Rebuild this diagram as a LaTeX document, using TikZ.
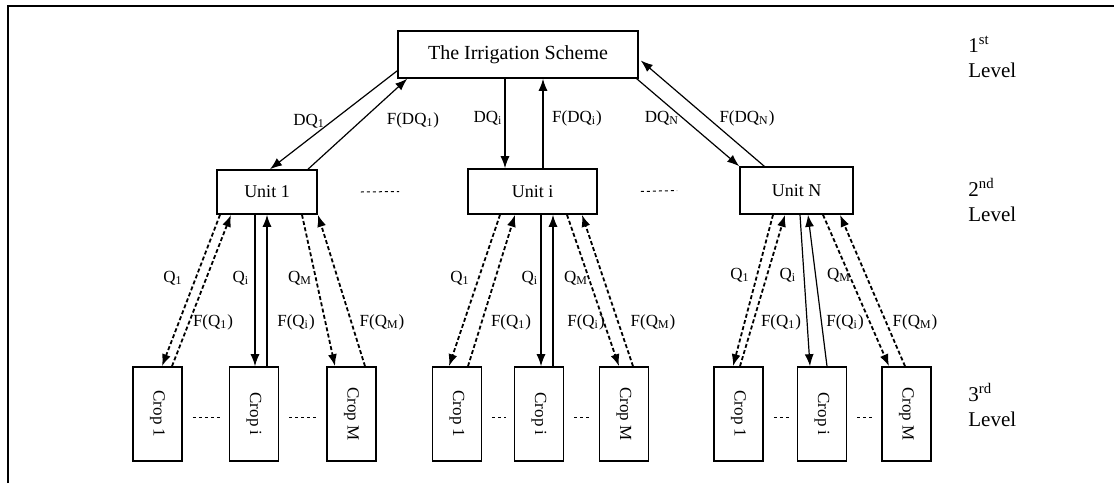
\documentclass[tikz,border=0pt]{standalone}
\usepackage{fontspec}
\usepackage{graphicx}
\setmainfont{Liberation Serif}
\usetikzlibrary{arrows.meta,calc}
\begin{document}
\begin{tikzpicture}[x=0.5pt,y=-0.5pt,
 box/.style={draw,line width=0.8pt,inner sep=0pt,font=\fontsize{9}{10}\selectfont},
 cropbox/.style={draw,line width=0.8pt,inner sep=0pt,minimum width=24.5pt,minimum height=47pt,font=\fontsize{8.5}{10}\selectfont},
 arr/.style={line width=0.6pt,-{Latex[length=6pt,width=4.5pt]}},
 dsh/.style={arr,dash pattern=on 2pt off 1.2pt,line width=0.9pt},
 lbl/.style={font=\fontsize{8.5}{9}\selectfont,inner sep=0pt},
 lvl/.style={font=\fontsize{10.5}{12.5}\selectfont,align=left,anchor=west,inner sep=0pt},
 frameline/.style={line width=1.3pt},
 dotline/.style={dash pattern=on 1.5pt off 1.5pt,line width=0.5pt}]
\useasboundingbox (0,0) rectangle (1114,483);
\draw[frameline] (8,483) -- (8,6) -- (1114,6);

% level 1
\node[box,minimum width=120pt,minimum height=23.5pt,font=\fontsize{10}{12}\selectfont] (ts) at (518,54.5) {The Irrigation Scheme};
% level 2
\node[box,minimum width=50pt,minimum height=22pt] (u1) at (267,192) {Unit 1};
\node[box,minimum width=64.5pt,minimum height=22.5pt] (ui) at (532.5,191.5) {Unit i};
\node[box,minimum width=56.5pt,minimum height=23.5pt] (un) at (796.5,190.5) {Unit N};
% level 3
\node[cropbox] (c11) at (157.5,414) {\rotatebox{-90}{Crop 1}};
\node[cropbox] (c12) at (254,414) {\rotatebox{-90}{Crop i}};
\node[cropbox] (c13) at (351.5,414) {\rotatebox{-90}{Crop M}};
\node[cropbox] (c21) at (457,414) {\rotatebox{-90}{Crop 1}};
\node[cropbox] (c22) at (539,414) {\rotatebox{-90}{Crop i}};
\node[cropbox] (c23) at (624,414) {\rotatebox{-90}{Crop M}};
\node[cropbox] (c31) at (738.5,414) {\rotatebox{-90}{Crop 1}};
\node[cropbox] (c32) at (822,414) {\rotatebox{-90}{Crop i}};
\node[cropbox] (c33) at (906.5,414) {\rotatebox{-90}{Crop M}};

% level labels
\node[lvl] (l1) at (968,57) {1\textsuperscript{st}\\Level};
\node[lvl] (l2) at (968,200) {2\textsuperscript{nd}\\Level};
\node[lvl] (l3) at (968,405) {3\textsuperscript{rd}\\Level};

% dots between units and crops
\draw[dotline] ($(u1.east)+(43,0)$) -- ($(ui.west)+(-68,0)$);
\draw[dotline] ($(ui.east)+(43,0)$) -- ($(un.west)+(-62,0)$);
\foreach \a/\b in {c11/c12,c12/c13,c21/c22,c22/c23,c31/c32,c32/c33}
  \draw[dotline] ($(\a.east)+(10,3)$) -- ($(\b.west)+(-8,3)$);

% level 1 <-> level 2
\draw[arr] ($(ts.south west)+(0,-8)$) -- ($(u1.north)+(3,0)$);
\draw[arr] ($(u1.north)+(41,0)$) -- ($(ts.south west)+(10,0)$);
\draw[arr] ($(ts.south)+(-13,0)$) -- ($(ui.north)+(-27.5,0)$);
\draw[arr] ($(ui.north)+(10.5,0)$) -- ($(ts.south)+(25,0)$);
\draw[arr] ($(ts.south east)+(-2,0)$) -- (un.north west);
\draw[arr] ($(un.north west)+(25,0)$) -- ($(ts.east)+(2,6)$);

\node[lbl] (t1) at (309,121) {DQ\textsubscript{1}};
\node[lbl] (t2) at (413,120) {F(DQ\textsubscript{1})};
\node[lbl] (t3) at (488,118) {DQ\textsubscript{i}};
\node[lbl] (t4) at (577,118) {F(DQ\textsubscript{i})};
\node[lbl] (t5) at (662,118) {DQ\textsubscript{N}};
\node[lbl] (t6) at (747,118) {F(DQ\textsubscript{N})};

% unit 1 <-> crops
\draw[dsh] ($(u1.south)+(-47,0)$) -- ($(c11.north)+(4.5,0)$);
\draw[dsh] ($(c11.north)+(14.5,0)$) -- ($(u1.south)+(-36,0)$);
\draw[arr] ($(u1.south)+(-12,0)$) -- ($(c12.north)+(1,0)$);
\draw[arr] ($(c12.north)+(13,0)$) -- (u1.south);
\draw[dsh] ($(u1.south)+(35,0)$) -- ($(c13.north)+(-16.5,0)$);
\draw[dsh] ($(c13.north)+(13.5,0)$) -- ($(u1.south)+(51,0)$);

% unit i <-> crops
\draw[dsh] ($(ui.south)+(-32.5,0)$) -- ($(c21.north)+(-8,0)$);
\draw[dsh] ($(c21.north)+(11,0)$) -- ($(ui.south)+(-17.5,0)$);
\draw[arr] ($(ui.south)+(8.5,0)$) -- ($(c22.north)+(2,0)$);
\draw[arr] ($(c22.north)+(14,0)$) -- ($(ui.south)+(20.5,0)$);
\draw[dsh] ($(ui.south)+(34.5,0)$) -- ($(c23.north)+(-5,0)$);
\draw[dsh] ($(c23.north)+(9,0)$) -- ($(ui.south)+(49.5,0)$);

% unit N <-> crops
\draw[dsh] ($(un.south)+(-23.5,0)$) -- ($(c31.north)+(-5.5,0)$);
\draw[dsh] ($(c31.north)+(1.5,0)$) -- ($(un.south)+(-11.5,0)$);
\draw[arr] ($(un.south)+(3.5,0)$) -- ($(c32.north)+(-12,0)$);
\draw[arr] ($(c32.north)+(5,0)$) -- ($(un.south)+(11.5,0)$);
\draw[dsh] ($(un.south)+(26.5,0)$) -- ($(c33.north)+(-17.5,0)$);
\draw[dsh] ($(c33.north)+(-1.5,0)$) -- ($(un.south)+(43.5,0)$);

% labels level 2 <-> 3
\node[lbl] (a1) at (173,278) {Q\textsubscript{1}};
\node[lbl] (a2) at (213,322) {F(Q\textsubscript{1})};
\node[lbl] (a3) at (241,278) {Q\textsubscript{i}};
\node[lbl] (a4) at (296,322) {F(Q\textsubscript{i})};
\node[lbl] (a5) at (300,278) {Q\textsubscript{M}};
\node[lbl] (a6) at (382,322) {F(Q\textsubscript{M})};
\node[lbl] (b1) at (460,278) {Q\textsubscript{1}};
\node[lbl] (b2) at (511,322) {F(Q\textsubscript{1})};
\node[lbl] (b3) at (530,278) {Q\textsubscript{i}};
\node[lbl] (b4) at (586,322) {F(Q\textsubscript{i})};
\node[lbl] (b5) at (576,278) {Q\textsubscript{M}};
\node[lbl] (b6) at (653,322) {F(Q\textsubscript{M})};
\node[lbl] (d1) at (740,275) {Q\textsubscript{1}};
\node[lbl] (d2) at (781,322) {F(Q\textsubscript{1})};
\node[lbl] (d3) at (788,275) {Q\textsubscript{i}};
\node[lbl] (d4) at (845,322) {F(Q\textsubscript{i})};
\node[lbl] (d5) at (839,275) {Q\textsubscript{M}};
\node[lbl] (d6) at (915,322) {F(Q\textsubscript{M})};
\end{tikzpicture}
\end{document}
